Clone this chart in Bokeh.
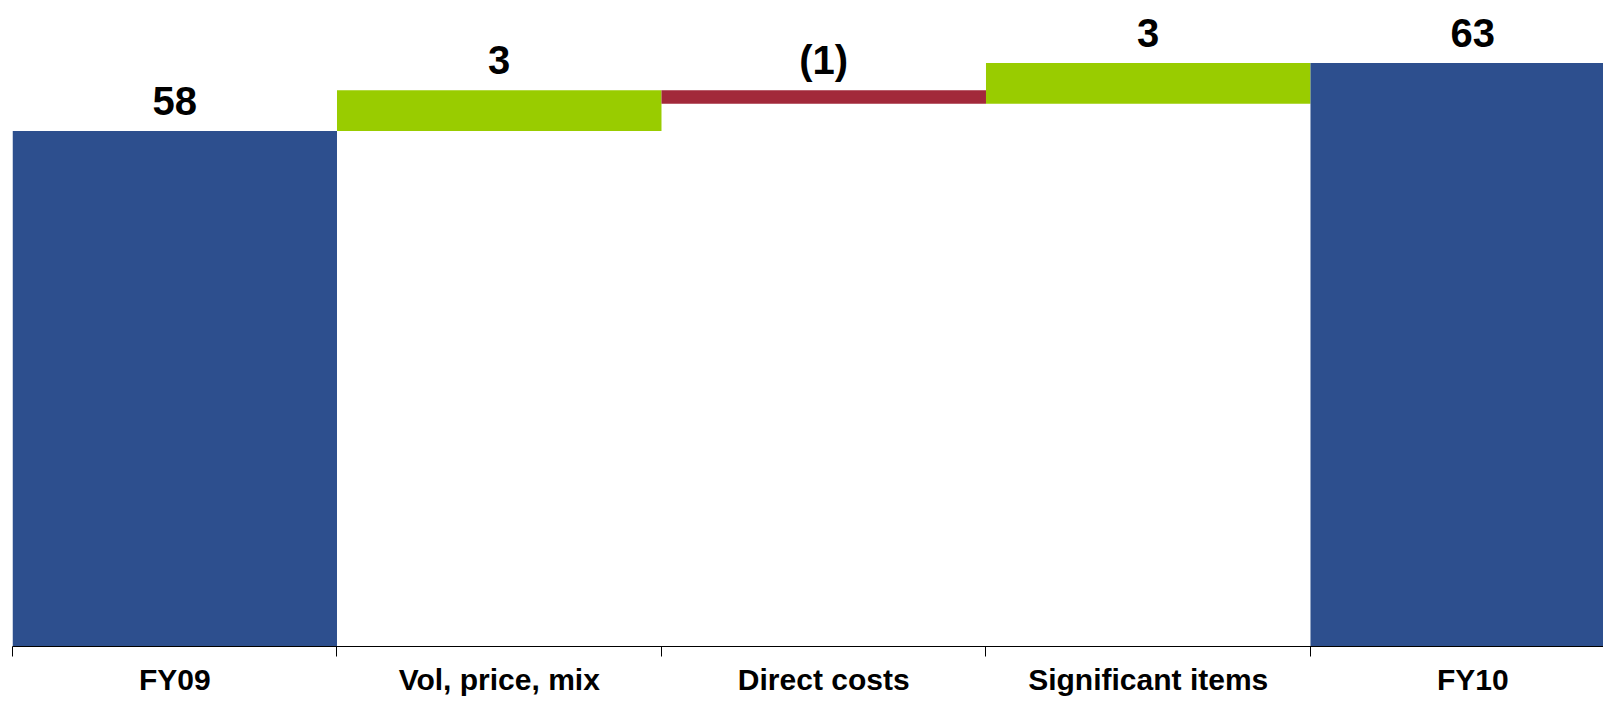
from bokeh.plotting import figure
from bokeh.models import ColumnDataSource, FixedTicker, Range1d
from bokeh.core.properties import value
from bokeh.embed import file_html
from bokeh.resources import INLINE

# ---- data ----
categories = ["FY09", "Vol, price, mix", "Direct costs", "Significant items", "FY10"]
values = [58, 3, -1, 3, 63]
kinds = ["total", "delta", "delta", "delta", "total"]

# ---- styles ----
BLUE = "#2D4F8E"
GREEN = "#99CC00"
RED = "#A2293A"
FONT = "Liberation Sans"

# waterfall geometry from the values
bottoms, tops, colors, labels = [], [], [], []
running = 0
for v, k in zip(values, kinds):
    if k == "total":
        b, t = 0, v
        running = v
        c = BLUE
    else:
        b, t = (running, running + v) if v >= 0 else (running + v, running)
        running += v
        c = GREEN if v >= 0 else RED
    bottoms.append(b)
    tops.append(t)
    colors.append(c)
    labels.append(str(v) if v >= 0 else "(%d)" % abs(v))

xs = [i + 0.5 for i in range(len(categories))]
src = ColumnDataSource(dict(x=xs, bottom=bottoms, top=tops, color=colors, label=labels))

p = figure(width=1603, height=698, output_backend="svg", toolbar_location=None,
           x_range=Range1d(0, 4.903), y_range=Range1d(20.22, 67.575),
           y_axis_location=None, min_border_left=12, min_border_right=0,
           min_border_top=0, min_border_bottom=50)
p.outline_line_color = None
p.xgrid.visible = False
p.ygrid.visible = False
p.background_fill_color = "white"
p.border_fill_color = "white"

p.vbar(x="x", width=1.0, bottom="bottom", top="top", fill_color="color",
       line_color=None, source=src)

p.text(x="x", y="top", text="label", source=src, text_align="center",
       text_baseline="alphabetic", y_offset=-30,
       text_font=value(FONT), text_font_style="bold", text_font_size="40px",
       text_color="black")

ax = p.xaxis[0]
ax.ticker = FixedTicker(ticks=xs, minor_ticks=list(range(len(categories))))
ax.major_label_overrides = {x: c for x, c in zip(xs, categories)}
ax.major_tick_out = 0
ax.major_tick_in = 0
ax.minor_tick_out = 10
ax.minor_tick_in = 0
ax.minor_tick_line_color = "black"
ax.axis_line_color = "black"
ax.axis_line_width = 1
ax.major_label_text_font = FONT
ax.major_label_text_font_style = "bold"
ax.major_label_text_font_size = "30px"
ax.major_label_text_color = "black"
ax.major_label_standoff = 6

open("out.html", "w").write(file_html(p, INLINE))
